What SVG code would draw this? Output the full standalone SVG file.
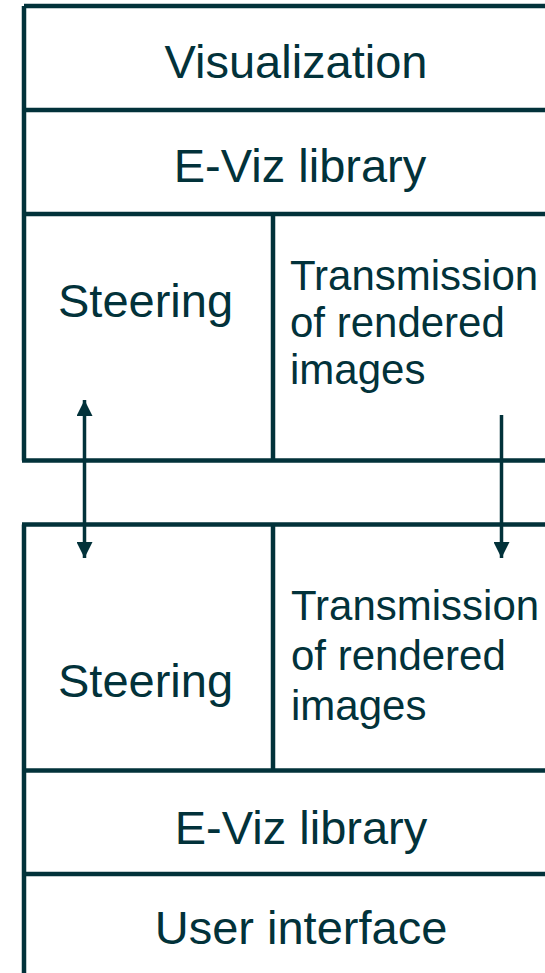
<svg xmlns="http://www.w3.org/2000/svg" width="545" height="973" viewBox="0 0 545 973">
<defs>
<style>
.ln{stroke:#02323a;stroke-width:4.5;fill:none}
.ar{stroke:#02323a;stroke-width:3.5;fill:none}
text{font-family:"Liberation Sans",Arial,Helvetica,sans-serif;font-size:47px;fill:#02323a}
.c{text-anchor:middle}
.t{font-size:42px}
</style>
<marker id="ah" viewBox="0 0 16 16" refX="16" refY="8" markerWidth="16" markerHeight="16" markerUnits="userSpaceOnUse" orient="auto-start-reverse">
<path d="M0,0 L16,8 L0,16 Z" fill="#02323a"/>
</marker>
</defs>
<rect width="545" height="973" fill="#ffffff"/>
<g id="top-stack">
<g id="visualization">
<path class="ln" d="M24,6 H560 M24,6 V110"/>
<text class="c" x="296" y="78">Visualization</text>
</g>
<g id="eviz-top">
<path class="ln" d="M24,110 H560 M24,110 V214"/>
<text class="c" x="300" y="182">E-Viz library</text>
</g>
<g id="steering-top">
<path class="ln" d="M24,214 H560 M24,214 V460.5 M273,214 V460.5 M22,460.5 H560"/>
<text x="58" y="317">Steering</text>
</g>
<g id="transmission-top">
<text class="t" x="290" y="290">Transmission</text>
<text class="t" x="290" y="337">of rendered</text>
<text class="t" x="290" y="384">images</text>
</g>
</g>
<g id="bottom-stack">
<g id="steering-bottom">
<path class="ln" d="M22,524.5 H560 M24,524.5 V973 M273,524.5 V770.5"/>
<text x="58" y="697">Steering</text>
</g>
<g id="transmission-bottom">
<text class="t" x="291" y="620">Transmission</text>
<text class="t" x="291" y="670">of rendered</text>
<text class="t" x="291" y="720">images</text>
</g>
<g id="eviz-bottom">
<path class="ln" d="M24,770.5 H560"/>
<text class="c" x="301" y="844">E-Viz library</text>
</g>
<g id="user-interface">
<path class="ln" d="M24,874 H560"/>
<text class="c" x="301" y="944">User interface</text>
</g>
</g>
<g id="connectors">
<path class="ar" d="M84.5,558 V400" marker-start="url(#ah)" marker-end="url(#ah)"/>
<path class="ar" d="M501.5,415 V558" marker-end="url(#ah)"/>
</g>
</svg>
